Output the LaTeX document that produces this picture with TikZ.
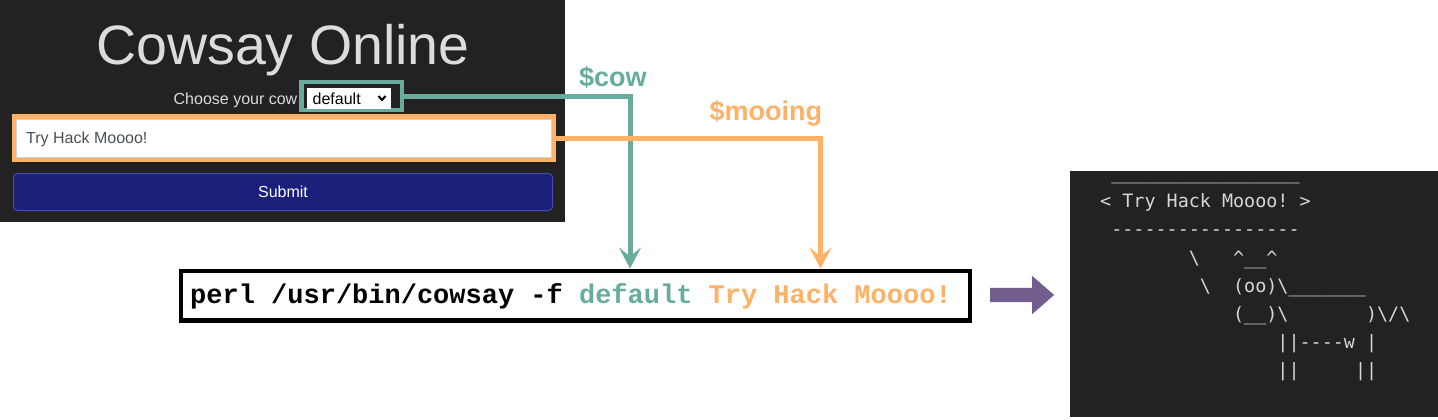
\documentclass[tikz,border=0pt]{standalone}
\usepackage{fontspec}
\setmainfont{Liberation Sans}
\setmonofont{DejaVu Sans Mono}
\newfontfamily\cmdfont{Liberation Mono}
\usetikzlibrary{arrows.meta,shapes.arrows}
\definecolor{panel}{HTML}{222222}
\definecolor{uitext}{HTML}{DCDCDC}
\definecolor{teal2}{HTML}{67AC9D}
\definecolor{orng}{HTML}{FFB266}
\definecolor{navy}{HTML}{1A1F7A}
\definecolor{navyb}{HTML}{4A48B8}
\definecolor{inptext}{HTML}{495057}
\definecolor{purp}{HTML}{735D8E}
\definecolor{cowtext}{HTML}{D6D6D6}
\newcommand\cwsp[1]{\hspace*{#1\fontcharwd\font`x}}
\tikzset{
  uilabel/.style={inner sep=0pt, text=uitext, font=\fontsize{16}{19}\selectfont},
  hlbox/.style={draw, line width=4.5pt, inner sep=0pt},
  conn/.style={line width=5pt, -{Stealth[length=21pt, width=22pt, inset=9pt]}},
  varlabel/.style={inner sep=0pt, font=\fontsize{27}{30}\selectfont\bfseries},
  cowline/.style={inner sep=0pt, anchor=base west, text=cowtext, font=\ttfamily\fontsize{18.4}{28}\selectfont},
}
\begin{document}
\begin{tikzpicture}[x=1pt, y=-1pt]
\useasboundingbox (0,0) rectangle (1438,420);
% left UI panel
\fill[panel] (0,0) rectangle (565,222);
\node[uilabel, anchor=base, font=\fontsize{55.5}{60}\selectfont] (title) at (283,65) {Cowsay Online};
\node[uilabel, anchor=base east] (choose) at (297.5,104) {Choose your cow};
% select with teal highlight
\node[hlbox, draw=teal2, fill=panel, minimum width=100.5pt, minimum height=27.5pt] (cowsel) at (351.5,96) {};
\fill[white] (307,88) rectangle (391,108.5);
\node[inner sep=0pt, anchor=base west, font=\fontsize{16}{19}\selectfont] (seltext) at (312.5,104) {default};
\draw[line width=2pt] (378.5,96) -- (382,100) -- (385.5,96);
% text input with orange highlight
\node[hlbox, draw=orng, fill=white, minimum width=539.5pt, minimum height=43.5pt] (inbox) at (284,138) {};
\draw[line width=0.8pt, draw=black!18] (16.5,119.5) rectangle (551,157);
\node[inner sep=0pt, anchor=base west, text=inptext, font=\fontsize{16}{19}\selectfont] (intext) at (26,143) {Try Hack Moooo!};
% submit button
\node[draw=navyb, fill=navy, line width=1pt, rounded corners=4pt, minimum width=539pt, minimum height=37pt, inner sep=0pt, text=white, font=\fontsize{16}{19}\selectfont] (submit) at (283,192) {Submit};
% command box
\node[hlbox, draw=black, fill=white, minimum width=789pt, minimum height=49.5pt] (cmd) at (575.25,295.5) {};
\node[inner sep=0pt, anchor=base west, font=\cmdfont\bfseries\fontsize{27}{30}\selectfont] (cmdtext) at (190,303) {perl /usr/bin/cowsay -f \textcolor{teal2}{default} \textcolor{orng}{Try Hack Moooo!}};
% connectors
\coordinate (tx) at (630,0);
\coordinate (ox) at (820.5,0);
\draw[conn, teal2] (cowsel.east) -| (tx |- cmd.north);
\draw[conn, orng] (inbox.east) -| (ox |- cmd.north);
\node[varlabel, text=teal2, anchor=base west] (cowlbl) at (579,87) {\$cow};
\node[varlabel, text=orng, anchor=base west] (moolbl) at (709.5,121) {\$mooing};
% purple arrow
\node[single arrow, fill=purp, inner xsep=0pt, inner ysep=7pt, minimum height=64pt, minimum width=38pt, single arrow head extend=12pt, single arrow tip angle=82] (parrow) at (1018,295) {};
% terminal
\fill[panel] (1070,171) rectangle (1438,417);
\node[cowline] (c0) at (1100,179) {\cwsp{1}\_\_\_\_\_\_\_\_\_\_\_\_\_\_\_\_\_};
\node[cowline] (c1) at (1100,207) {< Try Hack Moooo! >};
\node[cowline] (c2) at (1100,235) {\cwsp{1}-----------------};
\node[cowline] (c3) at (1100,264) {\cwsp{8}\textbackslash\cwsp{3}\textasciicircum\_\_\textasciicircum};
\node[cowline] (c4) at (1100,292) {\cwsp{9}\textbackslash\cwsp{2}(oo)\textbackslash\_\_\_\_\_\_\_};
\node[cowline] (c5) at (1100,320) {\cwsp{12}(\_\_)\textbackslash\cwsp{7})\textbackslash/\textbackslash};
\node[cowline] (c6) at (1100,348) {\cwsp{16}||----w\cwsp{1}|};
\node[cowline] (c7) at (1100,376) {\cwsp{16}||\cwsp{5}||};
\end{tikzpicture}
\end{document}
